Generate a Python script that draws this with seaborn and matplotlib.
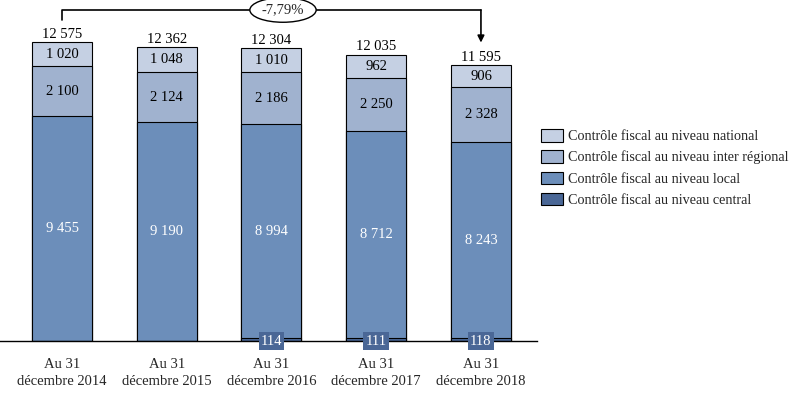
import pandas as pd
import numpy as np
import seaborn as sns
import matplotlib.pyplot as plt
from matplotlib.patches import Patch

years = ["Au 31\ndécembre 2014", "Au 31\ndécembre 2015", "Au 31\ndécembre 2016",
         "Au 31\ndécembre 2017", "Au 31\ndécembre 2018"]
central = [0, 0, 114, 111, 118]
local = [9455, 9190, 8994, 8712, 8243]
inter = [2100, 2124, 2186, 2250, 2328]
national = [1020, 1048, 1010, 962, 906]
evolution = "-7,79%"

names = ["Contrôle fiscal au niveau national", "Contrôle fiscal au niveau inter régional",
         "Contrôle fiscal au niveau local", "Contrôle fiscal au niveau central"]
colors = ["#C5D0E3", "#A0B2CF", "#6C8EBA", "#4A6796"]

def fmt(v):
    return f"{v:,}".replace(",", " ")

sns.set_style("white")
plt.rcParams['font.family'] = ['Liberation Serif', 'DejaVu Serif']

df = pd.DataFrame({"year": years, "central": central, "local": local,
                   "inter": inter, "national": national})
df["c1"] = df["central"]
df["c2"] = df["c1"] + df["local"]
df["c3"] = df["c2"] + df["inter"]
df["c4"] = df["c3"] + df["national"]

fig = plt.figure(figsize=(8.07, 3.94), dpi=100)
ax = fig.add_axes([0.0, 0.1345, 0.6654, 0.845])

# stacked by overlaying cumulative sums, tallest first
for col, c in zip(["c4", "c3", "c2", "c1"], colors):
    sns.barplot(data=df, x="year", y=col, color=c, width=0.573, saturation=1,
                edgecolor="black", linewidth=0.8, ax=ax)

ax.set_xlim(-0.592, 4.535)
ax.set_ylim(0, 14000)
ax.set_xlabel("")
ax.set_ylabel("")
ax.set_yticks([])
ax.tick_params(axis="x", length=0, labelsize=10.5, pad=12)
for lab in ax.get_xticklabels():
    lab.set_linespacing(1.45)
for s in ["top", "right", "left"]:
    ax.spines[s].set_visible(False)
ax.spines["bottom"].set_color("black")
ax.spines["bottom"].set_linewidth(1)

for i in range(len(years)):
    ax.text(i, df["c2"][i] - local[i] / 2, fmt(local[i]), ha="center", va="center",
            color="white", fontsize=10.5)
    ax.text(i, df["c2"][i] + inter[i] / 2, fmt(inter[i]), ha="center", va="center",
            color="black", fontsize=10.5)
    ax.text(i, df["c3"][i] + national[i] / 2, fmt(national[i]), ha="center", va="center",
            color="black", fontsize=10.5)
    ax.text(i, df["c4"][i] + 60, fmt(int(df["c4"][i])), ha="center", va="bottom",
            color="black", fontsize=10.5)
    if central[i] > 0:
        ax.text(i, 0, fmt(central[i]), ha="center", va="center", color="white",
                fontsize=10.5, clip_on=False,
                bbox=dict(boxstyle="square,pad=0.15", fc=colors[3], ec="none"))

# evolution arrow
y_line = 13920
ax.plot([0, 0, 4], [13500, y_line, y_line], color="black", lw=1.2, clip_on=False)
ax.annotate("", xy=(4, 12550), xytext=(4, y_line),
            arrowprops=dict(arrowstyle="-|>", color="black", lw=1.2, shrinkA=0, shrinkB=0,
                            mutation_scale=10), annotation_clip=False)
ax.text(2.11, y_line, evolution, ha="center", va="center", fontsize=10.5, clip_on=False,
        bbox=dict(boxstyle="ellipse,pad=0.15", fc="white", ec="black", lw=1.0))

handles = [Patch(facecolor=c, edgecolor="black", linewidth=0.8) for c in colors]
fig.legend(handles, names, loc="upper left", bbox_to_anchor=(0.655, 0.705), frameon=False,
           fontsize=10.2, handlelength=1.5, handleheight=1.0, labelspacing=0.5,
           handletextpad=0.4)

fig.savefig("out.png", dpi=100)
